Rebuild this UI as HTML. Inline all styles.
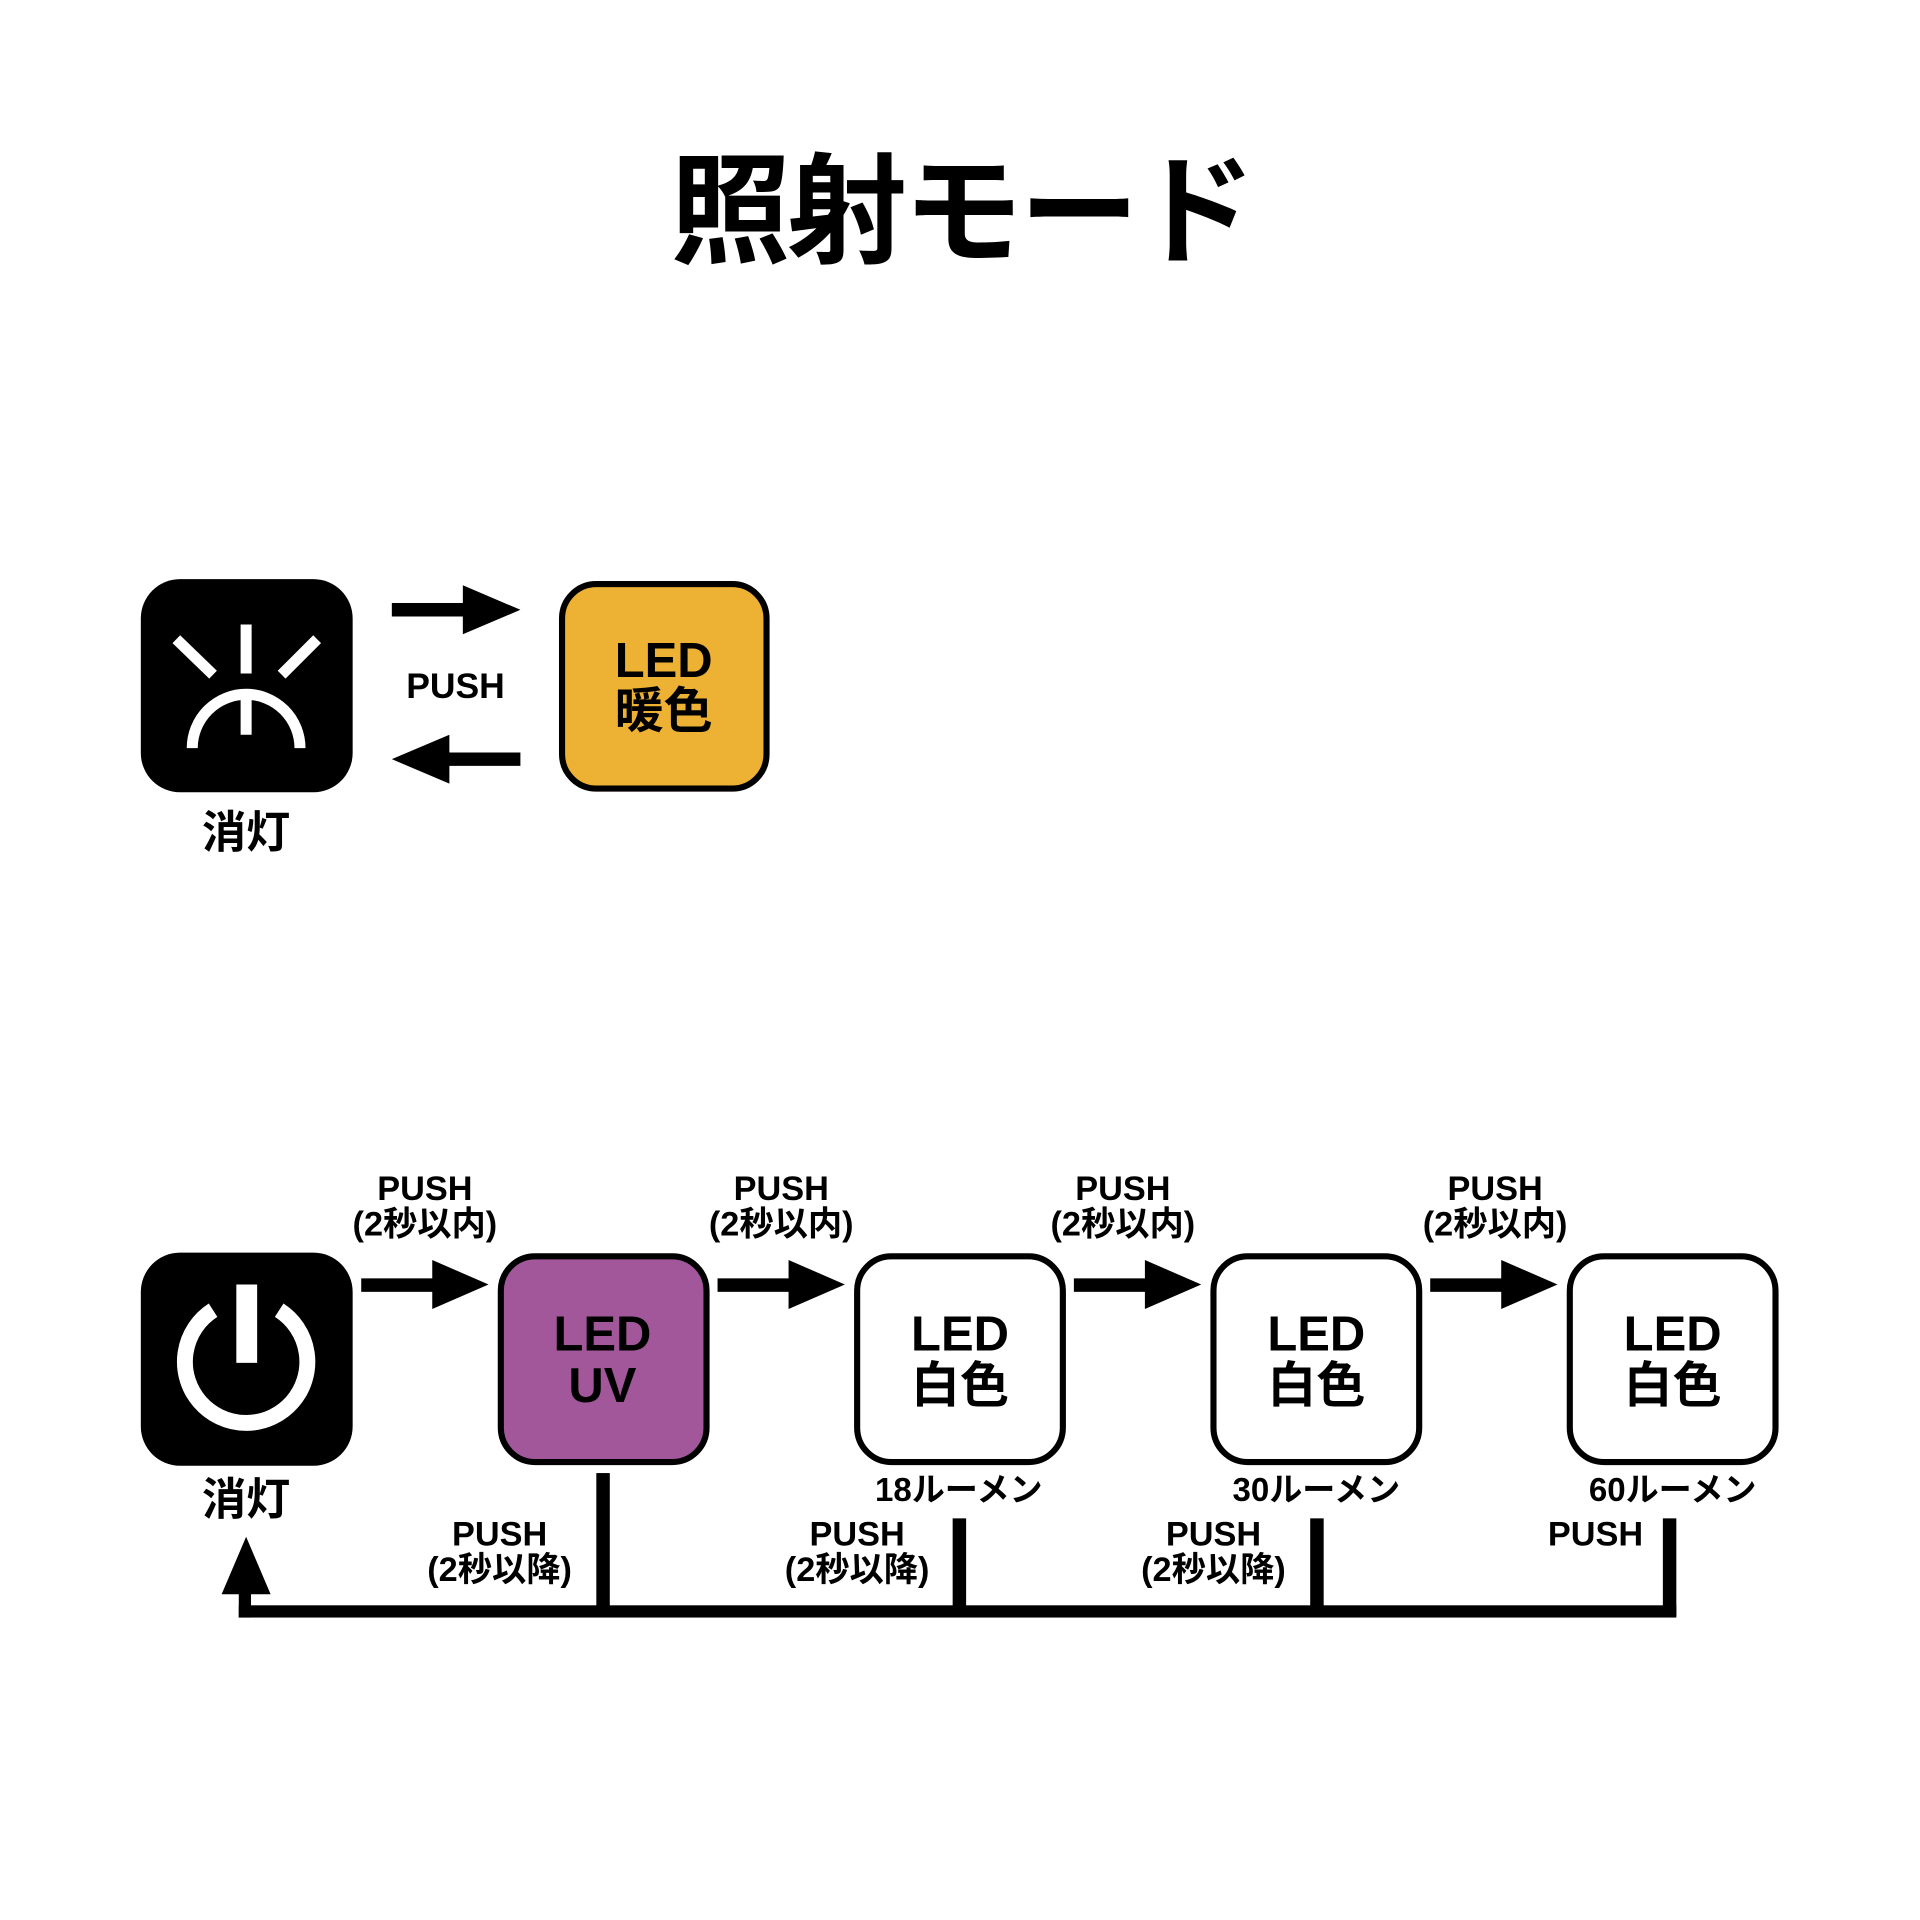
<!DOCTYPE html>
<html><head><meta charset="utf-8"><style>
html,body{margin:0;padding:0;background:#fff;}
svg{display:block;}
text{font-family:"Liberation Sans","Noto Sans CJK JP",sans-serif;font-weight:bold;fill:#000;text-anchor:middle;}
</style></head><body>
<svg width="1920" height="1920" viewBox="0 0 1568 1568" xmlns="http://www.w3.org/2000/svg">
<rect width="1568" height="1568" fill="#fff"/>
<text x="785" y="207" font-size="98" font-weight="900" letter-spacing="-3">照射モード</text>

<!-- top row -->
<rect x="115" y="473" width="173" height="174" rx="32" fill="#000"/>
<g stroke="#fff" stroke-width="9" fill="none">
<line x1="201" y1="510" x2="201" y2="550"/>
<line x1="144" y1="522" x2="174" y2="551"/>
<line x1="259" y1="522" x2="230" y2="551"/>
<line x1="201" y1="570" x2="201" y2="600"/>
<path d="M157 611 A44 44 0 0 1 245 611"/>
</g>
<text x="201" y="692" font-size="36">消灯</text>

<rect x="459" y="477" width="167" height="167" rx="28" fill="#EDB133" stroke="#000" stroke-width="5"/>
<text x="542" y="553" font-size="40">LED</text>
<text x="542" y="594" font-size="40">暖色</text>

<line x1="320" y1="498" x2="385" y2="498" stroke="#000" stroke-width="11"/>
<polygon points="378,478 425,498 378,518" fill="#000"/>
<line x1="360" y1="620" x2="425" y2="620" stroke="#000" stroke-width="11"/>
<polygon points="367,600 320,620 367,640" fill="#000"/>
<text x="372" y="570" font-size="29">PUSH</text>

<!-- bottom row -->
<rect x="115" y="1023" width="173" height="174" rx="32" fill="#000"/>
<g stroke="#fff" stroke-width="13" fill="none">
<path d="M174 1070 A50 50 0 1 0 228 1070"/>
</g>
<rect x="193" y="1049" width="17" height="64" fill="#fff"/>
<text x="201" y="1237" font-size="36">消灯</text>

<rect x="409" y="1026" width="168" height="168" rx="28" fill="#A2579A" stroke="#000" stroke-width="5"/>
<text x="492" y="1103" font-size="40">LED</text>
<text x="492" y="1145" font-size="40">UV</text>

<g fill="#fff" stroke="#000" stroke-width="5">
<rect x="700" y="1026" width="168" height="168" rx="28"/>
<rect x="991" y="1026" width="168" height="168" rx="28"/>
<rect x="1282" y="1026" width="168" height="168" rx="28"/>
</g>
<text x="784" y="1103" font-size="40">LED</text><text x="784" y="1145" font-size="40">白色</text>
<text x="1075" y="1103" font-size="40">LED</text><text x="1075" y="1145" font-size="40">白色</text>
<text x="1366" y="1103" font-size="40">LED</text><text x="1366" y="1145" font-size="40">白色</text>

<text x="783" y="1226" font-size="27">18ルーメン</text>
<text x="1075" y="1226" font-size="27">30ルーメン</text>
<text x="1366" y="1226" font-size="27">60ルーメン</text>

<g fill="#000">
<rect x="295" y="1044" width="65" height="11"/><polygon points="353,1029 399,1049 353,1069"/>
<rect x="586" y="1044" width="65" height="11"/><polygon points="644,1029 690,1049 644,1069"/>
<rect x="877" y="1044" width="65" height="11"/><polygon points="935,1029 981,1049 935,1069"/>
<rect x="1168" y="1044" width="65" height="11"/><polygon points="1226,1029 1272,1049 1226,1069"/>
</g>
<g font-size="28">
<text x="347" y="980">PUSH</text><text x="347" y="1009">(2秒以内)</text>
<text x="638" y="980">PUSH</text><text x="638" y="1009">(2秒以内)</text>
<text x="917" y="980">PUSH</text><text x="917" y="1009">(2秒以内)</text>
<text x="1221" y="980">PUSH</text><text x="1221" y="1009">(2秒以内)</text>
<text x="408" y="1262">PUSH</text><text x="408" y="1291">(2秒以降)</text>
<text x="700" y="1262">PUSH</text><text x="700" y="1291">(2秒以降)</text>
<text x="991" y="1262">PUSH</text><text x="991" y="1291">(2秒以降)</text>
<text x="1303" y="1262">PUSH</text>
</g>

<g fill="#000">
<rect x="487" y="1203" width="11" height="117"/>
<rect x="778" y="1240" width="11" height="80"/>
<rect x="1070" y="1240" width="11" height="80"/>
<rect x="1358" y="1240" width="11" height="80"/>
<rect x="195" y="1311" width="1174" height="10"/>
<rect x="195" y="1290" width="10" height="31"/>
<polygon points="181,1302 201,1255 221,1302"/>
</g>
</svg>
</body></html>
